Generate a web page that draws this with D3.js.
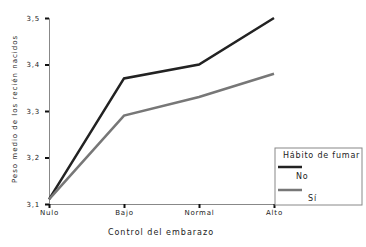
<!DOCTYPE html>
<html>
<head>
<meta charset="utf-8">
<script src="https://cdn.jsdelivr.net/npm/d3@7"></script>
<style>
  body { margin: 0; background: #fff; }
  text { font-family: "DejaVu Sans", sans-serif; fill: #222; }
</style>
</head>
<body>
<svg width="366" height="247"></svg>
<script>
// categories and series values
const categorias = ['Nulo', 'Bajo', 'Normal', 'Alto'];
const valoresNo = [3.11, 3.37, 3.40, 3.50];
const valoresSi = [3.11, 3.29, 3.33, 3.38];
const ticksY = [3.1, 3.2, 3.3, 3.4, 3.5];
const series = [
    { nombre: 'No', valores: valoresNo, color: '#222' },
    { nombre: 'Sí', valores: valoresSi, color: '#777' }
];

const svg = d3.select("svg");

const x = d3.scalePoint().domain(categorias).range([49, 274]);
const y = d3.scaleLinear().domain([3.1, 3.5]).range([204, 18]);

// Eje Y
const gy = svg.append("g").attr("transform", "translate(49,0)")
    .call(d3.axisLeft(y).tickValues(ticksY).tickFormat(d => d3.format(".1f")(d).replace('.', ','))
        .tickSize(4).tickPadding(5));
gy.select(".domain").attr("stroke", "#888");
gy.selectAll(".tick line").attr("stroke", "#111").attr("stroke-width", 2);
gy.selectAll(".tick text").style("font-size", "7px").style("letter-spacing", "0.8px").attr("fill", "#444");

// Eje X
const gx = svg.append("g").attr("transform", "translate(0,204)")
    .call(d3.axisBottom(x).tickSize(4).tickPadding(2));
gx.select(".domain").attr("stroke", "#888");
gx.selectAll(".tick line").attr("stroke", "#111").attr("stroke-width", 2);
gx.selectAll(".tick text").style("font-size", "7px").style("letter-spacing", "0.8px").attr("fill", "#444");

// Lineas
const linea = d3.line().x((d, i) => x(categorias[i])).y(d => y(d));
for (const s of series) {
    svg.append("path")
        .datum(s.valores)
        .attr("d", linea)
        .attr("fill", "none")
        .attr("stroke", s.color)
        .attr("stroke-width", 2.5);
}

// Titulos de ejes
svg.append("text")
    .attr("transform", "translate(17,109) rotate(-90)")
    .attr("text-anchor", "middle")
    .style("font-size", "7px")
    .style("letter-spacing", "1px")
    .text("Peso medio de los recién nacidos");

svg.append("text")
    .attr("x", 161).attr("y", 235)
    .attr("text-anchor", "middle")
    .style("font-size", "8px")
    .style("letter-spacing", "1px")
    .text("Control del embarazo");

// Leyenda
const leyenda = svg.append("g").attr("transform", "translate(275,148)");
leyenda.append("rect")
    .attr("width", 87).attr("height", 57)
    .attr("fill", "#fff").attr("stroke", "#888");
leyenda.append("text").attr("x", 8).attr("y", 10)
    .style("font-size", "8px").style("letter-spacing", "0.8px")
    .text("Hábito de fumar");
series.forEach((s, i) => {
    leyenda.append("line")
        .attr("x1", 3).attr("x2", 27)
        .attr("y1", 19 + i * 23).attr("y2", 19 + i * 23)
        .attr("stroke", s.color).attr("stroke-width", 2.5);
    leyenda.append("text")
        .attr("x", 21 + i * 12).attr("y", 31 + i * 22)
        .style("font-size", "8px").style("letter-spacing", "0.8px")
        .text(s.nombre);
});
</script>
</body>
</html>
